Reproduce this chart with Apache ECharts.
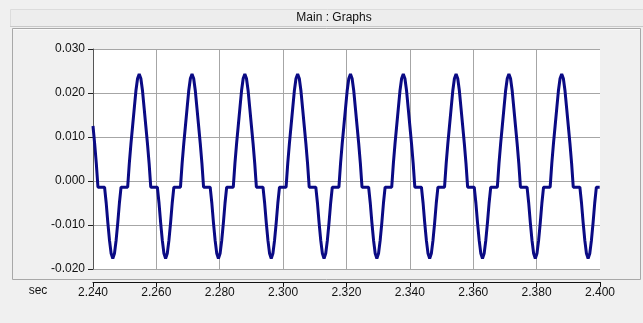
<!DOCTYPE html>
<html>
<head>
<meta charset="utf-8">
<script src="https://cdn.jsdelivr.net/npm/echarts/dist/echarts.min.js"></script>
<style>
  html, body { margin: 0; padding: 0; background: #f0f0f0; }
  #chart { width: 643px; height: 323px; }
</style>
</head>
<body>
<div id="chart"></div>
<script>
const startTime = 2.240
const sampleStep = 1 / 1920
const trace = [
  0.0125, 0.0085, 0.004, -0.0014, -0.0014, -0.0014, -0.0014, -0.0014, -0.005, -0.0095, -0.0135, -0.0165, -0.0176, -0.0165, -0.0135, -0.0095, -0.005, -0.0014, -0.0014, -0.0014, -0.0014, -0.0014, 0.004, 0.0085, 0.0125, 0.0165, 0.0205, 0.0233, 0.0243, 0.0233, 0.0205, 0.0165,
  0.0125, 0.0085, 0.004, -0.0014, -0.0014, -0.0014, -0.0014, -0.0014, -0.005, -0.0095, -0.0135, -0.0165, -0.0176, -0.0165, -0.0135, -0.0095, -0.005, -0.0014, -0.0014, -0.0014, -0.0014, -0.0014, 0.004, 0.0085, 0.0125, 0.0165, 0.0205, 0.0233, 0.0243, 0.0233, 0.0205, 0.0165,
  0.0125, 0.0085, 0.004, -0.0014, -0.0014, -0.0014, -0.0014, -0.0014, -0.005, -0.0095, -0.0135, -0.0165, -0.0176, -0.0165, -0.0135, -0.0095, -0.005, -0.0014, -0.0014, -0.0014, -0.0014, -0.0014, 0.004, 0.0085, 0.0125, 0.0165, 0.0205, 0.0233, 0.0243, 0.0233, 0.0205, 0.0165,
  0.0125, 0.0085, 0.004, -0.0014, -0.0014, -0.0014, -0.0014, -0.0014, -0.005, -0.0095, -0.0135, -0.0165, -0.0176, -0.0165, -0.0135, -0.0095, -0.005, -0.0014, -0.0014, -0.0014, -0.0014, -0.0014, 0.004, 0.0085, 0.0125, 0.0165, 0.0205, 0.0233, 0.0243, 0.0233, 0.0205, 0.0165,
  0.0125, 0.0085, 0.004, -0.0014, -0.0014, -0.0014, -0.0014, -0.0014, -0.005, -0.0095, -0.0135, -0.0165, -0.0176, -0.0165, -0.0135, -0.0095, -0.005, -0.0014, -0.0014, -0.0014, -0.0014, -0.0014, 0.004, 0.0085, 0.0125, 0.0165, 0.0205, 0.0233, 0.0243, 0.0233, 0.0205, 0.0165,
  0.0125, 0.0085, 0.004, -0.0014, -0.0014, -0.0014, -0.0014, -0.0014, -0.005, -0.0095, -0.0135, -0.0165, -0.0176, -0.0165, -0.0135, -0.0095, -0.005, -0.0014, -0.0014, -0.0014, -0.0014, -0.0014, 0.004, 0.0085, 0.0125, 0.0165, 0.0205, 0.0233, 0.0243, 0.0233, 0.0205, 0.0165,
  0.0125, 0.0085, 0.004, -0.0014, -0.0014, -0.0014, -0.0014, -0.0014, -0.005, -0.0095, -0.0135, -0.0165, -0.0176, -0.0165, -0.0135, -0.0095, -0.005, -0.0014, -0.0014, -0.0014, -0.0014, -0.0014, 0.004, 0.0085, 0.0125, 0.0165, 0.0205, 0.0233, 0.0243, 0.0233, 0.0205, 0.0165,
  0.0125, 0.0085, 0.004, -0.0014, -0.0014, -0.0014, -0.0014, -0.0014, -0.005, -0.0095, -0.0135, -0.0165, -0.0176, -0.0165, -0.0135, -0.0095, -0.005, -0.0014, -0.0014, -0.0014, -0.0014, -0.0014, 0.004, 0.0085, 0.0125, 0.0165, 0.0205, 0.0233, 0.0243, 0.0233, 0.0205, 0.0165,
  0.0125, 0.0085, 0.004, -0.0014, -0.0014, -0.0014, -0.0014, -0.0014, -0.005, -0.0095, -0.0135, -0.0165, -0.0176, -0.0165, -0.0135, -0.0095, -0.005, -0.0014, -0.0014, -0.0014, -0.0014, -0.0014, 0.004, 0.0085, 0.0125, 0.0165, 0.0205, 0.0233, 0.0243, 0.0233, 0.0205, 0.0165,
  0.0125, 0.0085, 0.004, -0.0014, -0.0014, -0.0014, -0.0014, -0.0014, -0.005, -0.0095, -0.0135, -0.0165, -0.0176, -0.0165, -0.0135, -0.0095, -0.005, -0.0014, -0.0014, -0.0014
]
const xTicks = { min: 2.24, max: 2.40, step: 0.02 }
const yTicks = { min: -0.02, max: 0.03, step: 0.01 }

let points = trace.map((v, i) => [startTime + i * sampleStep, v])

let font = 'Liberation Sans, Arial, sans-serif'
let chart = echarts.init(document.getElementById('chart'))
let option = {
  backgroundColor: '#f0f0f0',
  animation: false,
  graphic: [
    // title bar
    { type: 'rect', z: -10, shape: { x: 10.5, y: 9.5, width: 640, height: 17 },
      style: { fill: '#ededed', stroke: '#dcdcdc', lineWidth: 1 } },
    { type: 'line', z: -9, shape: { x1: 10, y1: 26.5, x2: 643, y2: 26.5 }, style: { stroke: '#c8c8c8', lineWidth: 1 } },
    { type: 'text', z: 5, style: { text: 'Main : Graphs', x: 334, y: 17.5, fill: '#111', font: '12px ' + font, align: 'center', verticalAlign: 'middle' } },
    // graph panel
    { type: 'rect', z: -10, shape: { x: 12.5, y: 28.5, width: 628, height: 251 },
      style: { fill: '#f0f0f0', stroke: '#a8a8a8', lineWidth: 1 } },
    { type: 'line', z: -9, shape: { x1: 13, y1: 29.5, x2: 640, y2: 29.5 }, style: { stroke: '#fafafa', lineWidth: 1 } },
    { type: 'text', z: 5, style: { text: 'sec', x: 38, y: 291, fill: '#111', font: '12px ' + font, align: 'center', verticalAlign: 'middle' } }
  ],
  grid: {
    left: 93,
    top: 49,
    width: 507,
    height: 220,
    show: true,
    backgroundColor: '#ffffff',
    borderWidth: 0
  },
  xAxis: {
    type: 'value',
    min: xTicks.min,
    max: xTicks.max,
    interval: xTicks.step,
    offset: 13,
    axisLine: { show: true, onZero: false, lineStyle: { color: '#111', width: 1 } },
    axisTick: { show: true, inside: false, length: 5, lineStyle: { color: '#111' } },
    axisLabel: {
      margin: 5,
      color: '#111',
      fontSize: 12,
      fontFamily: font,
      formatter: (v) => v.toFixed(3)
    },
    splitLine: { show: true, showMinLine: false, showMaxLine: false, lineStyle: { color: '#a6a6a6', width: 1 } }
  },
  yAxis: {
    type: 'value',
    min: yTicks.min,
    max: yTicks.max,
    interval: yTicks.step,
    axisLine: { show: true, onZero: false, lineStyle: { color: '#555', width: 1 } },
    axisTick: { show: true, length: 5, lineStyle: { color: '#222' } },
    axisLabel: {
      margin: 8,
      color: '#111',
      fontSize: 12,
      fontFamily: font,
      formatter: (v) => v.toFixed(3)
    },
    splitLine: { show: true, lineStyle: { color: '#a6a6a6', width: 1 } }
  },
  series: [
    {
      type: 'line',
      data: points,
      step: 'end',
      showSymbol: false,
      clip: true,
      lineStyle: { color: '#0a0a84', width: 3 }
    }
  ]
}
chart.setOption(option)
</script>
</body>
</html>
